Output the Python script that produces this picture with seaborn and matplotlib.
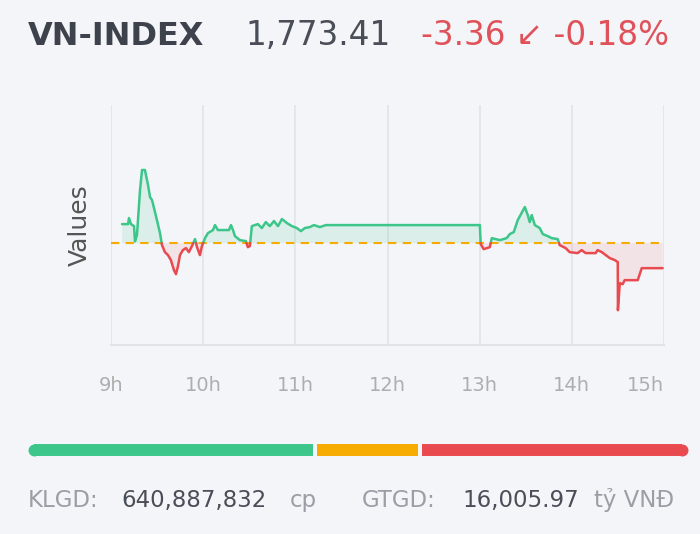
import numpy as np
import pandas as pd
import seaborn as sns
import matplotlib.pyplot as plt

# intraday VN-INDEX path: minutes after 9:00 and index value
minutes = [7.2, 11.1, 11.7, 13.0, 15.0, 15.6, 16.9, 18.9, 20.2, 22.1,
           24.1, 25.4, 26.7, 28.0, 29.9, 31.9, 33.2, 35.1, 37.1, 39.0,
           41.0, 42.3, 43.6, 44.9, 46.8, 48.8, 50.7, 52.7, 54.7, 56.0,
           57.9, 59.2, 61.2, 63.1, 66.4, 67.7, 69.6, 76.8, 78.1, 79.4,
           80.7, 83.9, 87.8, 89.1, 90.4, 91.7, 95.6, 98.2, 100.8, 103.4,
           106.1, 108.7, 111.3, 114.5, 117.8, 121.0, 123.6, 126.2, 129.5, 132.1,
           136.0, 139.9, 149.6, 240.1, 240.7, 242.6, 246.6, 247.9, 253.1, 257.6,
           259.6, 262.2, 264.8, 269.4, 271.3, 272.6, 273.9, 275.9, 279.1, 281.1,
           284.3, 286.9, 290.8, 292.1, 296.0, 298.6, 303.8, 306.4, 309.0, 315.5,
           316.8, 319.5, 322.1, 324.7, 328.0, 329.9, 330.0, 331.2, 333.1, 334.4,
           342.9, 345.5, 359.1]
values = [1779.32, 1779.32, 1780.13, 1779.32, 1779.05, 1777.00, 1777.85, 1783.89, 1786.58, 1786.58,
          1784.57, 1782.95, 1782.55, 1781.47, 1779.86, 1778.11, 1776.50, 1775.56, 1775.16, 1774.49,
          1773.14, 1772.60, 1773.68, 1775.16, 1775.83, 1776.10, 1775.56, 1776.37, 1777.31, 1776.23,
          1775.16, 1776.37, 1777.44, 1778.11, 1778.52, 1779.19, 1778.52, 1778.52, 1779.19, 1778.52,
          1777.71, 1777.17, 1777.04, 1776.23, 1776.37, 1779.05, 1779.32, 1778.79, 1779.59, 1779.05,
          1779.73, 1779.05, 1780.00, 1779.46, 1779.05, 1778.79, 1778.38, 1778.79, 1778.92, 1779.19,
          1778.92, 1779.19, 1779.19, 1779.19, 1776.64, 1775.96, 1776.23, 1777.44, 1777.17, 1777.44,
          1777.98, 1778.25, 1779.86, 1781.61, 1780.53, 1779.59, 1780.53, 1779.19, 1778.79, 1777.98,
          1777.71, 1777.44, 1777.31, 1776.50, 1776.10, 1775.56, 1775.43, 1775.83, 1775.43, 1775.43,
          1775.83, 1775.56, 1775.16, 1774.76, 1774.49, 1774.22, 1767.77, 1771.39, 1771.26, 1771.80,
          1771.80, 1773.41, 1773.41]
ref_value = 1776.77

hour_ticks = [0, 60, 120, 180, 240, 300, 360]
hour_labels = ["9h", "10h", "11h", "12h", "13h", "14h", "15h"]

breadth_counts = [185, 69, 172]   # up / unchanged / down

GREEN = "#3cc68a"
RED = "#e84a4f"
ORANGE = "#f5ab00"
BG = "#f4f5f8"

# add the crossing points with the reference so each side gets its own colour
pts = []
for i, (m, v) in enumerate(zip(minutes, values)):
    if i > 0:
        m0, v0 = minutes[i - 1], values[i - 1]
        if (v0 - ref_value) * (v - ref_value) < 0:
            mc = m0 + (ref_value - v0) / (v - v0) * (m - m0)
            pts.append((mc, ref_value))
    pts.append((m, v))

rows = []
seg = -1
side_prev = None
for (ma, va), (mb, vb) in zip(pts[:-1], pts[1:]):
    side = "up" if (va + vb) / 2 >= ref_value else "down"
    if side != side_prev:
        seg += 1
        rows.append((ma, va, seg, side))
        side_prev = side
    rows.append((mb, vb, seg, side))
line_df = pd.DataFrame(rows, columns=["minute", "value", "seg", "side"])

sns.set_theme(style="white")
plt.rcParams["font.family"] = ["DejaVu Sans"]

fig = plt.figure(figsize=(7, 5.34), dpi=100, facecolor=BG)
ax = fig.add_axes([111 / 700, 1 - 345 / 534, 553 / 700, 240 / 534], facecolor=BG)

pm = np.array([p[0] for p in pts])
pv = np.array([p[1] for p in pts])
ax.fill_between(pm, pv, ref_value, where=pv >= ref_value, interpolate=True,
                color=GREEN, alpha=0.13, lw=0)
ax.fill_between(pm, pv, ref_value, where=pv <= ref_value, interpolate=True,
                color=RED, alpha=0.10, lw=0)

sns.lineplot(data=line_df, x="minute", y="value", hue="side", units="seg",
             estimator=None, sort=False, palette={"up": GREEN, "down": RED},
             linewidth=1.8, legend=False, ax=ax)
ax.axhline(ref_value, color=ORANGE, ls=(0, (4, 3)), lw=1.5, zorder=1)

ax.set_xlim(0, 360)
ax.set_ylim(1763.1, 1795.3)
ax.set_xticks(hour_ticks)
ax.set_xticklabels(hour_labels, fontsize=14, color="#aeaeae")
ax.get_xticklabels()[-1].set_ha("right")
ax.set_yticks([])
ax.tick_params(axis="x", length=0, pad=22)
ax.grid(axis="x", color="#e1e3e8", lw=1.2)
ax.set_axisbelow(True)
for s in ["top", "right", "left"]:
    ax.spines[s].set_visible(False)
ax.spines["bottom"].set_color("#e1e3e8")
ax.spines["bottom"].set_linewidth(1.5)
ax.set_xlabel("")
ax.set_ylabel("Values", fontsize=18, color="#555555", labelpad=14)

# header
fig.text(28 / 700, 1 - 45 / 534, "VN-INDEX", fontsize=23, fontweight="bold",
         color="#3d424d", va="baseline")
fig.text(245 / 700, 1 - 45 / 534, "1,773.41", fontsize=23.5, color="#4a4e58",
         va="baseline")
fig.text(421 / 700, 1 - 45 / 534, "-3.36 \u2199 -0.18%", fontsize=23.5,
         color="#e0525a", va="baseline")

# market breadth bar
bx = fig.add_axes([34 / 700, 1 - 456 / 534, 648 / 700, 12 / 534], facecolor=BG)
total = sum(breadth_counts)
gap = total * 4 / 648
bar_colors = [GREEN, ORANGE, RED]
left = 0
for i, (c, col) in enumerate(zip(breadth_counts, bar_colors)):
    x0 = left + (gap / 2 if i > 0 else 0)
    x1 = left + c - (gap / 2 if i < len(breadth_counts) - 1 else 0)
    bx.plot([x0, x1], [0, 0], color=col, lw=8.6, solid_capstyle="butt")
    left += c
bx.scatter([0], [0], s=74, color=GREEN, linewidths=0, clip_on=False, zorder=3)
bx.scatter([total], [0], s=74, color=RED, linewidths=0, clip_on=False, zorder=3)
bx.set_xlim(0, total)
bx.set_ylim(-1, 1)
bx.axis("off")

# footer
fy = 1 - 507 / 534
fig.text(28 / 700, fy, "KLGD:", fontsize=16.5, color="#9a9ea6", va="baseline")
fig.text(121 / 700, fy, "640,887,832", fontsize=16.5, color="#4a4e58", va="baseline")
fig.text(290 / 700, fy, "cp", fontsize=16.5, color="#9a9ea6", va="baseline")
fig.text(362 / 700, fy, "GTGD:", fontsize=16.5, color="#9a9ea6", va="baseline")
fig.text(462 / 700, fy, "16,005.97", fontsize=16.5, color="#4a4e58", va="baseline")
fig.text(594 / 700, fy, "tỷ VNĐ", fontsize=16.5, color="#9a9ea6", va="baseline")

fig.savefig("out.png", dpi=100, facecolor=BG)
